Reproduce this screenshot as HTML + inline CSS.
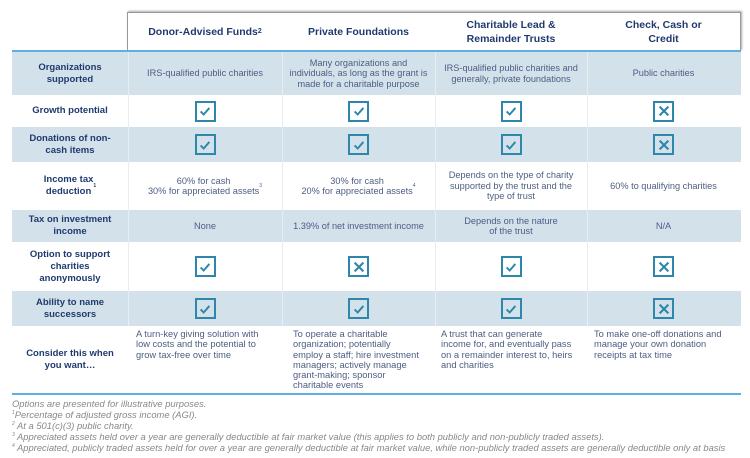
<!DOCTYPE html>
<html><head><meta charset="utf-8"><style>
*{margin:0;padding:0;box-sizing:border-box}
body{width:750px;height:458px;background:#fff;font-family:"Liberation Sans",sans-serif;position:relative;overflow:hidden}
.hdr{position:absolute;left:127px;top:12px;width:614px;height:39px;border:1px solid #999;border-bottom:none;box-shadow:1px -1px 2px #aaa}
.h{position:absolute;top:12px;height:39px;display:flex;align-items:center;justify-content:center;text-align:center;font-size:10.5px;font-weight:bold;color:#1f3a6e;line-height:14px}
.line{position:absolute;left:12px;width:729px;height:2px;background:#5fb0e0}
.row{position:absolute;left:12px;width:729px}
.sh{background:#d3e1eb}
.c{position:absolute;display:flex;align-items:center;justify-content:center;text-align:center;font-size:9.2px;color:#4d5d82;line-height:10.5px}
.lab{font-weight:bold;color:#1f3a6e;font-size:9.5px;line-height:12px}
.sep{position:absolute;width:1px;background:#e6eef4}
.box{width:21px;height:21px;border:2.5px solid #2e86ab;display:flex;align-items:center;justify-content:center}
.foot{position:absolute;left:12px;font-size:9.4px;font-style:italic;color:#888;white-space:nowrap}
.ct{position:absolute;font-size:9.3px;color:#4d5d82;line-height:10.3px;top:329px;white-space:nowrap}
</style></head><body>
<div class="hdr"></div>
<div class="h" style="left:128px;width:154px">Donor-Advised Funds<sup style="font-size:7px">2</sup></div>
<div class="h" style="left:282px;width:153px">Private Foundations</div>
<div class="h" style="left:435px;width:152px">Charitable Lead &amp;<br>Remainder Trusts</div>
<div class="h" style="left:587px;width:153px">Check, Cash or<br>Credit</div>
<div class="line" style="top:50px"></div>
<div class="row sh" style="top:52px;height:43px"></div>
<div class="row sh" style="top:127px;height:35px"></div>
<div class="row sh" style="top:210px;height:32px"></div>
<div class="row sh" style="top:291px;height:35px"></div>
<div class="sep" style="left:128px;top:52px;height:274px"></div>
<div class="sep" style="left:282px;top:52px;height:274px"></div>
<div class="sep" style="left:435px;top:52px;height:274px"></div>
<div class="sep" style="left:587px;top:52px;height:274px"></div>
<div class="line" style="top:393px;height:1.5px"></div>
<svg width="0" height="0" style="position:absolute"><defs>
<symbol id="ck" viewBox="0 0 16 16"><path d="M3 8.5 L6.5 12 L13 4.5" fill="none" stroke="#2e86ab" stroke-width="2.2"/></symbol>
<symbol id="x" viewBox="0 0 16 16"><path d="M3 3 L13 13 M13 3 L3 13" fill="none" stroke="#2e86ab" stroke-width="2.4"/></symbol>
</defs></svg>
<div class="c lab" style="left:12px;width:116px;top:52px;height:43px">Organizations<br>supported</div>
<div class="c lab" style="left:12px;width:116px;top:95px;height:32px">Growth potential</div>
<div class="c lab" style="left:12px;width:116px;top:127px;height:35px">Donations of non-<br>cash items</div>
<div class="c lab" style="left:12px;width:116px;top:162px;height:48px">Income tax<br>deduction<sup style="font-size:5px">1</sup></div>
<div class="c lab" style="left:12px;width:116px;top:210px;height:32px">Tax on investment<br>income</div>
<div class="c lab" style="left:12px;width:116px;top:242px;height:49px">Option to support<br>charities<br>anonymously</div>
<div class="c lab" style="left:12px;width:116px;top:291px;height:35px">Ability to name<br>successors</div>
<div class="c lab" style="left:12px;width:116px;top:326px;height:68px">Consider this when<br>you want…</div>
<div class="c" style="left:128px;width:154px;top:52px;height:43px">IRS-qualified public charities</div>
<div class="c" style="left:282px;width:153px;top:52px;height:43px">Many organizations and<br>individuals, as long as the grant is<br>made for a charitable purpose</div>
<div class="c" style="left:435px;width:152px;top:52px;height:43px">IRS-qualified public charities and<br>generally, private foundations</div>
<div class="c" style="left:587px;width:153px;top:52px;height:43px">Public charities</div>
<div class="c" style="left:128px;width:154px;top:95px;height:32px"><div class="box"><svg width="14" height="14"><use href="#ck"/></svg></div></div>
<div class="c" style="left:282px;width:153px;top:95px;height:32px"><div class="box"><svg width="14" height="14"><use href="#ck"/></svg></div></div>
<div class="c" style="left:435px;width:152px;top:95px;height:32px"><div class="box"><svg width="14" height="14"><use href="#ck"/></svg></div></div>
<div class="c" style="left:587px;width:153px;top:95px;height:32px"><div class="box"><svg width="14" height="14"><use href="#x"/></svg></div></div>
<div class="c" style="left:128px;width:154px;top:127px;height:35px"><div class="box"><svg width="14" height="14"><use href="#ck"/></svg></div></div>
<div class="c" style="left:282px;width:153px;top:127px;height:35px"><div class="box"><svg width="14" height="14"><use href="#ck"/></svg></div></div>
<div class="c" style="left:435px;width:152px;top:127px;height:35px"><div class="box"><svg width="14" height="14"><use href="#ck"/></svg></div></div>
<div class="c" style="left:587px;width:153px;top:127px;height:35px"><div class="box"><svg width="14" height="14"><use href="#x"/></svg></div></div>
<div class="c" style="left:128px;width:154px;top:162px;height:48px">60% for cash<br>30% for appreciated assets<sup style="font-size:5px">3</sup></div>
<div class="c" style="left:282px;width:153px;top:162px;height:48px">30% for cash<br>20% for appreciated assets<sup style="font-size:5px">4</sup></div>
<div class="c" style="left:435px;width:152px;top:162px;height:48px">Depends on the type of charity<br>supported by the trust and the<br>type of trust</div>
<div class="c" style="left:587px;width:153px;top:162px;height:48px">60% to qualifying charities</div>
<div class="c" style="left:128px;width:154px;top:210px;height:32px">None</div>
<div class="c" style="left:282px;width:153px;top:210px;height:32px">1.39% of net investment income</div>
<div class="c" style="left:435px;width:152px;top:210px;height:32px">Depends on the nature<br>of the trust</div>
<div class="c" style="left:587px;width:153px;top:210px;height:32px">N/A</div>
<div class="c" style="left:128px;width:154px;top:242px;height:49px"><div class="box"><svg width="14" height="14"><use href="#ck"/></svg></div></div>
<div class="c" style="left:282px;width:153px;top:242px;height:49px"><div class="box"><svg width="14" height="14"><use href="#x"/></svg></div></div>
<div class="c" style="left:435px;width:152px;top:242px;height:49px"><div class="box"><svg width="14" height="14"><use href="#ck"/></svg></div></div>
<div class="c" style="left:587px;width:153px;top:242px;height:49px"><div class="box"><svg width="14" height="14"><use href="#x"/></svg></div></div>
<div class="c" style="left:128px;width:154px;top:291px;height:35px"><div class="box"><svg width="14" height="14"><use href="#ck"/></svg></div></div>
<div class="c" style="left:282px;width:153px;top:291px;height:35px"><div class="box"><svg width="14" height="14"><use href="#ck"/></svg></div></div>
<div class="c" style="left:435px;width:152px;top:291px;height:35px"><div class="box"><svg width="14" height="14"><use href="#ck"/></svg></div></div>
<div class="c" style="left:587px;width:153px;top:291px;height:35px"><div class="box"><svg width="14" height="14"><use href="#x"/></svg></div></div>
<div class="ct" style="left:136px">A turn-key giving solution with<br>low costs and the potential to<br>grow tax-free over time</div>
<div class="ct" style="left:293px">To operate a charitable<br>organization; potentially<br>employ a staff; hire investment<br>managers; actively manage<br>grant-making; sponsor<br>charitable events</div>
<div class="ct" style="left:441px">A trust that can generate<br>income for, and eventually pass<br>on a remainder interest to, heirs<br>and charities</div>
<div class="ct" style="left:594px">To make one-off donations and<br>manage your own donation<br>receipts at tax time</div>
<div class="foot" style="top:398px">Options are presented for illustrative purposes.</div>
<div class="foot" style="top:409px"><sup style="font-size:5px">1</sup>Percentage of adjusted gross income (AGI).</div>
<div class="foot" style="top:420px"><sup style="font-size:5px">2</sup> At a 501(c)(3) public charity.</div>
<div class="foot" style="top:431px"><sup style="font-size:5px">3</sup> Appreciated assets held over a year are generally deductible at fair market value (this applies to both publicly and non-publicly traded assets).</div>
<div class="foot" style="top:442px"><sup style="font-size:5px">4</sup> Appreciated, publicly traded assets held for over a year are generally deductible at fair market value, while non-publicly traded assets are generally deductible only at basis</div>
</body></html>
